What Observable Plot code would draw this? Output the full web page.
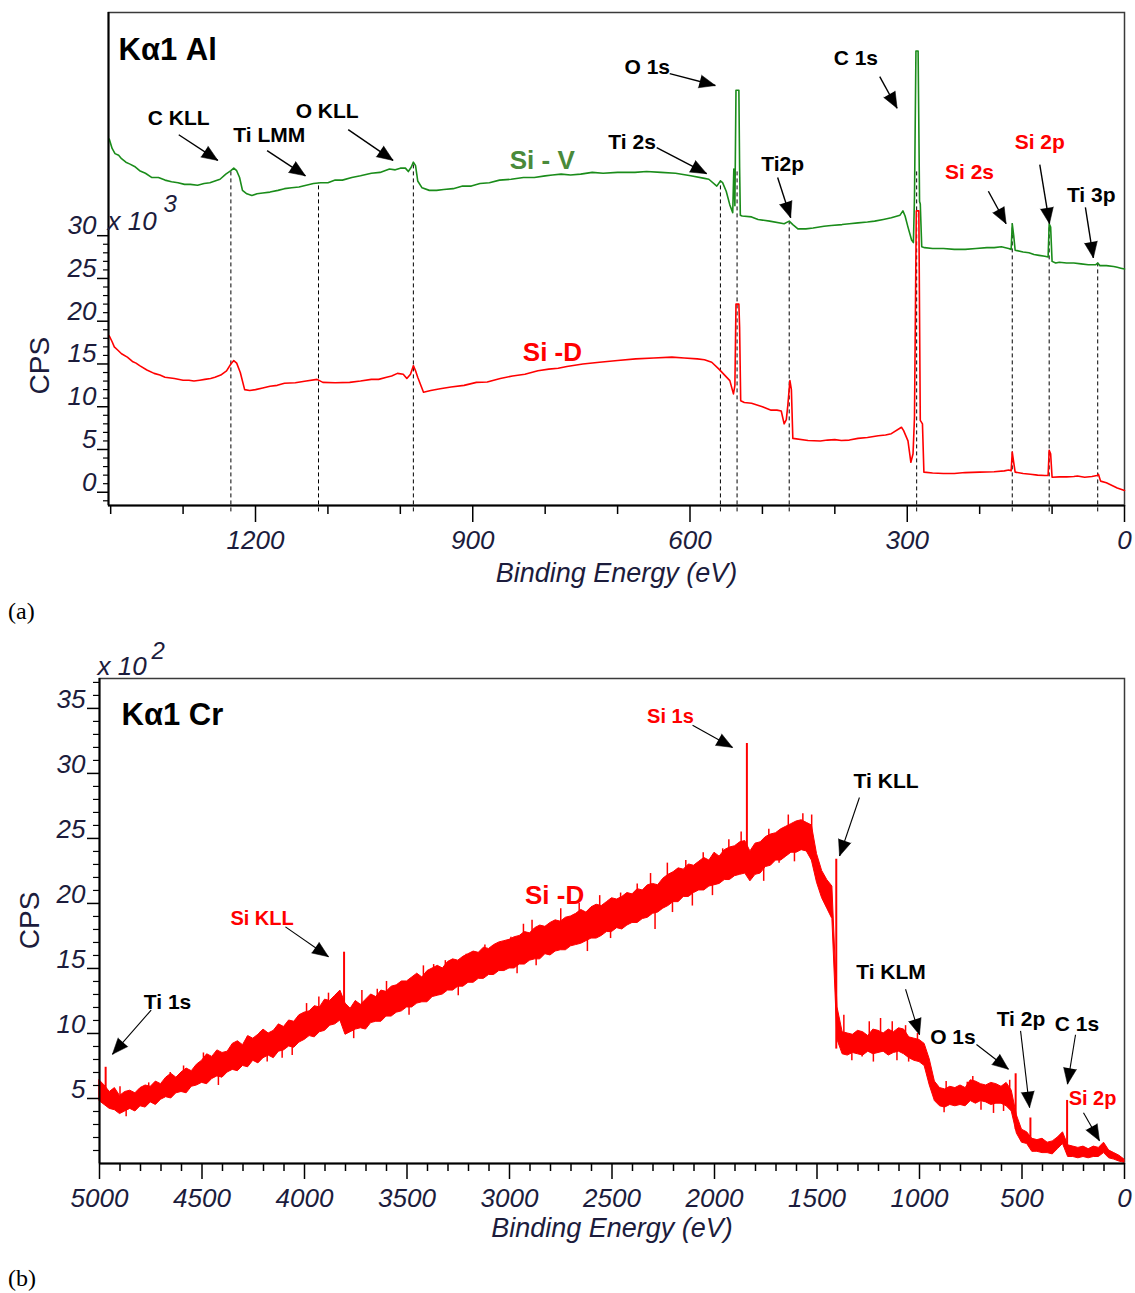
<!DOCTYPE html>
<html>
<head>
<meta charset="utf-8">
<script src="https://cdn.jsdelivr.net/npm/d3@7"></script>
<script src="https://cdn.jsdelivr.net/npm/@observablehq/plot@0.6"></script>
<style>
  html, body { margin: 0; padding: 0; background: #fff; }
  body { width: 1135px; height: 1293px; position: relative; overflow: hidden; font-family: "Liberation Sans", Arial, sans-serif; }
  #panelA { position: absolute; left: 0; top: 0; }
  #panelB { position: absolute; left: 0; top: 630px; }
  .plab { position: absolute; left: 8px; font-family: "Liberation Serif", "Times New Roman", serif; font-size: 24px; color: #000; line-height: 28px; }
</style>
</head>
<body>
<div id="panelA"></div>
<div id="panelB"></div>
<div class="plab" style="top:597px">(a)</div>
<div class="plab" style="top:1264px">(b)</div>
<script>
// ================= Panel (a): Kα1 Al =================
// [binding energy (eV), counts (x10^3 CPS)]
const aSiV = [
  [1402,41.3],[1398,40.2],[1394,39.6],[1389,39.4],[1385,39.0],[1379,38.6],[1374,38.4],[1367,38.1],[1360,37.6],[1352,37.3],
  [1343,36.8],[1334,36.8],[1325,36.5],[1316,36.3],[1307,36.2],[1298,36.0],[1290,36.0],[1280,35.9],[1271,36.1],[1263,36.2],
  [1256,36.4],[1249,36.6],[1241,37.2],[1234,37.6],[1230,37.9],[1226,37.6],[1222,36.8],[1218,35.3],[1212,34.9],[1205,34.7],
  [1198,34.9],[1190,35.0],[1180,35.1],[1169,35.3],[1160,35.5],[1150,35.6],[1140,35.7],[1130,35.9],[1120,36.1],[1110,36.2],
  [1100,36.2],[1090,36.5],[1080,36.5],[1067,36.8],[1055,37.0],[1040,37.3],[1028,37.4],[1015,37.8],[1007,37.7],[1000,37.9],
  [993,37.9],[989,37.5],[985,38.0],[982,38.6],[979,38.2],[976,36.4],[970,35.6],[960,35.3],[950,35.3],[940,35.4],
  [927,35.5],[914,35.8],[902,35.8],[890,36.1],[877,36.2],[863,36.5],[847,36.6],[830,36.8],[815,36.8],[800,37.0],
  [790,37.1],[778,37.2],[765,37.1],[751,37.2],[735,37.4],[720,37.3],[700,37.4],[676,37.4],[660,37.5],[640,37.4],
  [620,37.3],[599,37.0],[580,36.7],[574,36.6],[563,35.8],[558,36.4],[555,36.2],[550,35.2],[545,33.6],[541,32.7],
  [539.5,37.8],[538,33.5],[536.5,47.0],[532.5,47.0],[531.5,38.0],[530.5,32.4],[528,32.3],[515,32.2],[506,31.9],[490,31.7],
  [470,31.4],[463,31.7],[458,31.3],[451,30.8],[440,30.8],[430,30.9],[415,31.1],[405,31.2],[390,31.3],[380,31.4],
  [368,31.5],[355,31.6],[345,31.7],[333,31.9],[322,32.1],[310,32.4],[306,32.9],[303,32.3],[299,31.0],[294,29.5],
  [291.5,29.2],[290,34.5],[288,51.6],[285,51.6],[283,34.0],[282,33.7],[280,28.7],[276,28.6],[265,28.5],[250,28.5],
  [235,28.4],[220,28.4],[205,28.5],[190,28.6],[180,28.6],[170,28.7],[160,28.5],[156.5,28.4],[155,31.4],[153,30.0],
  [151,28.3],[140,28.1],[132,28.0],[125,27.8],[118,27.7],[110,27.6],[105.5,27.5],[104,31.4],[102,31.0],[100,27.0],
  [95,26.8],[90,26.9],[80,26.8],[70,26.8],[60,26.7],[50,26.6],[40,26.6],[37,26.8],[34,26.5],[25,26.5],
  [15,26.4],[10,26.3],[5,26.2],[0,26.1]
];
const aSiD = [
  [1402,18.3],[1398,17.6],[1395,17.0],[1390,16.6],[1385,16.2],[1377,15.8],[1370,15.3],[1365,15.1],[1360,14.8],[1350,14.3],
  [1340,13.9],[1332,13.7],[1325,13.45],[1312,13.3],[1300,13.1],[1292,13.1],[1285,13.0],[1277,13.1],[1270,13.2],[1262,13.3],
  [1256,13.45],[1248,13.7],[1240,14.2],[1234,15.0],[1230,15.4],[1226,15.1],[1221,14.0],[1215,12.0],[1208,11.9],[1200,12.0],
  [1190,12.2],[1180,12.4],[1170,12.5],[1160,12.75],[1145,12.8],[1130,13.0],[1115,13.2],[1107,12.85],[1090,12.8],[1070,12.85],
  [1055,13.0],[1040,13.2],[1030,13.2],[1019,13.45],[1012,13.6],[1004,13.9],[996,13.8],[991,13.3],[986,13.8],[982,14.8],
  [979,14.2],[976,13.45],[968,11.7],[958,11.9],[945,12.1],[930,12.3],[912,12.5],[895,12.85],[880,12.9],[862,13.3],
  [845,13.6],[828,13.8],[810,14.2],[795,14.4],[782,14.5],[770,14.7],[748,15.0],[725,15.2],[700,15.4],[675,15.6],
  [650,15.7],[625,15.8],[608,15.7],[590,15.6],[580,15.5],[570,15.2],[560,14.4],[545,13.05],[540,11.5],[538,12.5],
  [536.5,22.0],[532.5,22.0],[531.5,19.3],[530,10.7],[525,10.5],[515,10.4],[500,10.0],[488,9.6],[480,9.6],[474,9.5],
  [470,8.0],[467,8.5],[465,10.1],[462,13.05],[460,12.0],[458,6.3],[437,6.05],[420,6.0],[410,6.1],[400,6.15],
  [391,6.05],[380,6.1],[368,6.3],[355,6.4],[340,6.6],[330,6.7],[322,6.85],[308,7.6],[305,7.2],[299,6.0],
  [295,3.5],[292,4.5],[290,8.8],[287.5,32.9],[284,32.9],[282,8.4],[279,8.0],[277,2.35],[265,2.25],[250,2.2],
  [235,2.2],[220,2.3],[200,2.35],[180,2.4],[166,2.5],[160,2.6],[156.5,2.5],[155,4.7],[153,3.5],[151,2.35],
  [140,2.2],[130,2.1],[120,2.0],[110,1.95],[105.5,1.95],[104,4.9],[102,4.5],[100,1.75],[90,1.8],[80,1.8],
  [70,1.85],[65,1.9],[55,1.75],[45,1.85],[38,1.95],[36,2.1],[33,1.3],[25,1.1],[20,0.9],[15,0.7],
  [10,0.5],[0,0.2]
];
// dashed peak markers: energy and top value
const aPeakE = [1234, 1113, 982, 558, 535, 463, 287, 155, 104, 37];
const aPeakTop = [37.8, 36.2, 38.6, 36.4, 37.8, 31.6, 37.6, 31.4, 31.0, 26.8];
// ticks
const aXMajor = [1200, 900, 600, 300, 0];
const aXMinor = [1400, 1300, 1100, 1000, 800, 700, 500, 400, 200, 100];
const aYMajor = [0, 5, 10, 15, 20, 25, 30];
const aYMinor = [-1,1,2,3,4,6,7,8,9,11,12,13,14,16,17,18,19,21,22,23,24,26,27,28,29];
// annotations
const aLabelBlack = ["C KLL", "Ti LMM", "O KLL", "O 1s", "C 1s", "Ti 2s", "Ti2p", "Ti 3p"];
const aLabelBlackE = [1306, 1181, 1101, 659, 371, 680, 472, 46];
const aLabelBlackV = [43.7, 41.8, 44.6, 49.7, 50.8, 40.9, 38.3, 34.7];
const aLabelRed = ["Si 2s", "Si 2p"];
const aLabelRedE = [214, 117];
const aLabelRedV = [37.4, 40.9];
const aSeriesName = ["Si - V", "Si -D"];
const aSeriesE = [804, 790];
const aSeriesV = [38.8, 16.3];
const aArrowTailE = [1306, 1184, 1072, 628, 338, 646, 479, 188, 117, 54];
const aArrowTailV = [41.8, 39.95, 42.4, 48.96, 48.6, 40.3, 36.8, 35.2, 38.3, 33.3];
const aArrowTipE = [1252, 1131, 1010, 565, 314, 577, 461, 163.5, 103.6, 43];
const aArrowTipV = [38.8, 37.0, 38.8, 47.56, 44.9, 37.25, 32.1, 31.4, 31.4, 27.4];

// ================= Panel (b): Kα1 Cr =================
// noisy Si -D band, upper / lower edge, every 25 eV from 5000 eV down to 0 eV (x10^2 CPS)
const bHi = [
  6.4,6.0,5.5,5.8,5.2,5.5,5.6,5.4,5.8,6.0,5.9,6.3,6.1,6.6,6.9,6.6,7.0,7.3,7.1,7.6,
  7.9,8.4,8.2,8.7,8.5,8.6,9.2,9.4,9.1,9.8,9.6,9.9,10.3,10.0,10.2,10.7,10.5,11.0,10.9,11.4,
  11.6,11.7,12.1,12.0,12.6,12.5,12.9,13.3,12.3,11.9,12.5,12.2,12.6,13.0,12.8,13.3,13.2,13.6,13.7,14.0,
  14.0,14.3,14.6,14.3,14.8,15.0,15.2,15.0,15.5,15.7,15.6,15.9,16.1,16.3,16.2,16.6,16.5,16.8,17.0,17.1,
  17.2,17.4,17.5,17.8,17.7,18.1,18.3,18.2,18.5,18.7,18.6,18.9,19.0,19.2,19.5,19.3,19.7,19.9,19.8,20.1,
  20.4,20.3,20.5,20.8,20.7,21.1,21.0,21.4,21.5,21.4,21.9,22.2,22.4,22.7,22.6,23.0,22.9,23.2,23.5,23.3,
  23.9,23.6,24.1,24.3,24.4,24.7,24.8,24.0,24.6,24.7,25.1,25.3,25.4,25.7,25.9,26.1,26.3,26.4,26.2,26.0,
  23.8,22.5,21.8,21.3,12.0,10.1,10.0,9.9,10.2,10.1,9.8,10.3,10.2,10.0,10.3,10.1,10.4,10.3,9.7,9.6,
  9.5,9.2,8.0,6.3,5.8,5.7,5.9,5.8,6.0,5.8,6.4,6.3,6.1,6.0,6.2,6.1,5.9,6.2,5.6,3.7,
  2.6,2.4,1.9,1.8,1.9,1.6,1.7,2.0,2.4,1.4,1.3,1.2,1.3,1.1,1.3,1.2,1.6,1.0,0.8,0.6,
  0.3];
const bLo = [
  4.8,4.5,4.2,4.1,3.8,4.0,4.2,4.0,4.4,4.3,4.7,4.5,4.9,5.1,5.0,5.4,5.5,5.4,5.9,6.0,
  6.2,6.1,6.5,6.7,6.6,7.0,7.2,7.1,7.5,7.4,7.9,7.7,8.1,8.3,8.1,8.6,8.7,9.0,8.9,9.3,
  9.5,9.8,9.7,10.1,10.2,10.6,10.7,11.0,9.9,10.1,10.3,10.4,10.3,10.8,10.9,10.9,11.3,11.3,11.6,11.7,
  12.0,12.0,12.3,12.4,12.4,12.8,12.9,13.0,13.3,13.3,13.6,13.6,13.9,13.9,14.2,14.2,14.5,14.5,14.8,14.8,
  15.0,15.0,15.3,15.3,15.6,15.7,15.7,16.1,16.0,16.3,16.4,16.4,16.7,16.8,16.9,17.1,17.3,17.3,17.5,17.8,
  17.8,18.1,18.0,18.3,18.5,18.5,18.8,18.9,19.2,19.3,19.6,19.8,20.1,20.1,20.5,20.5,20.8,21.0,21.0,21.3,
  21.4,21.5,21.8,21.8,22.1,22.2,22.3,21.7,22.2,22.3,22.8,22.9,23.3,23.3,23.6,23.9,23.9,24.1,24.0,23.3,
  21.6,20.4,19.6,18.8,9.5,8.4,8.3,8.5,8.4,8.3,8.6,8.4,8.5,8.6,8.3,8.5,8.6,8.4,8.1,7.9,
  7.8,7.5,6.0,4.8,4.4,4.3,4.5,4.4,4.5,4.4,4.8,4.6,4.8,4.7,4.5,4.6,4.6,4.4,4.0,2.3,
  1.6,1.5,0.9,0.9,0.8,0.8,0.7,1.1,1.5,0.5,0.5,0.4,0.5,0.4,0.5,0.5,0.8,0.4,0.3,0.15,
  0.05];
const bStartE = 5000, bStepE = 25;
// individual noise excursions sticking out of the band: [energy, from, to]
const bNoise = [
  [4900,5.2,5.9],[4870,3.6,4.6],[4760,5.2,6.2],[4655,6.0,7.0],[4590,6.3,7.5],[4493,7.0,8.5],[4420,6.0,7.2],[4353,7.5,8.9],
  [4280,8.5,9.7],[4215,8.5,10.1],[4182,7.8,9.0],[4109,8.1,9.4],[4060,8.3,9.5],[4011,9.5,11.0],[3990,10.6,12.3],[3930,11.0,12.8],
  [3883,11.5,13.1],[3760,9.6,10.8],[3720,11.8,13.3],[3645,11.5,13.4],[3600,12.5,14.0],[3548,12.0,13.6],[3490,11.4,12.6],[3420,13.0,15.2],
  [3370,13.6,15.3],[3313,13.5,15.6],[3250,12.9,14.0],[3211,14.0,16.1],[3166,14.2,16.2],[3120,15.0,16.8],[3061,15.0,16.6],[2993,15.5,17.4],
  [2963,14.6,16.0],[2932,16.5,18.4],[2890,16.5,18.7],[2870,15.2,16.6],[2841,16.2,17.5],[2750,17.5,19.6],[2660,17.8,20.0],[2620,16.3,17.7],
  [2560,18.5,20.6],[2507,17.3,18.5],[2458,19.0,20.8],[2377,19.5,21.5],[2312,20.0,22.3],[2290,18.0,19.3],[2230,21.0,23.1],[2205,19.3,20.5],
  [2140,21.5,23.3],[2108,19.8,21.5],[2055,22.0,23.9],[2010,20.6,21.8],[1960,22.5,24.2],[1930,23.0,24.9],[1870,23.0,25.5],[1821,21.9,23.0],
  [1760,21.7,23.0],[1735,24.0,25.7],[1685,23.1,24.5],[1640,25.0,26.8],[1610,23.2,24.3],[1569,25.0,26.9],[1526,24.5,26.8],[1369,9.0,11.4],
  [1330,7.9,8.9],[1280,8.2,9.0],[1245,9.2,10.9],[1225,7.8,8.8],[1190,9.0,11.15],[1133,9.0,10.9],[1110,7.9,8.9],[1068,9.0,10.6],
  [1053,7.8,8.6],[1010,8.4,10.0],[880,3.9,4.9],[870,5.0,6.3],[767,5.0,6.25],[740,5.5,6.7],[700,4.1,5.1],[639,3.85,5.0],
  [590,4.0,5.0],[560,5.0,6.4]
];
// narrow peaks: energy, base, top
const bSpikeE = [4970, 3807, 1842, 1406, 531, 459, 280];
const bSpikeBase = [4.6, 10.6, 22.3, 8.8, 2.6, 1.2, 0.7];
const bSpikeTop = [7.4, 16.25, 32.3, 23.4, 6.9, 3.5, 4.85];
// ticks
const bXMajor = [5000, 4500, 4000, 3500, 3000, 2500, 2000, 1500, 1000, 500, 0];
const bXMinor = d3.range(100, 5000, 100).filter(d => d % 500 !== 0);
const bYMajor = [5, 10, 15, 20, 25, 30, 35];
const bYMinor = d3.range(1, 38).filter(d => d % 5 !== 0);
// annotations
const bLabelBlack = ["Ti 1s", "Ti KLL", "Ti KLM", "O 1s", "Ti 2p", "C 1s"];
const bLabelBlackE = [4668, 1163, 1139, 837, 505, 232];
const bLabelBlackV = [12.4, 29.4, 14.7, 9.7, 11.1, 10.7];
const bLabelRed = ["Si KLL", "Si 1s", "Si 2p"];
const bLabelRedE = [4207, 2215, 156];
const bLabelRedV = [18.8, 34.4, 5.0];
const bSeriesName = ["Si -D"];
const bSeriesE = [2780];
const bSeriesV = [20.6];
const bArrowTailE = [4748, 4093, 2107, 1293, 1068, 722, 507, 239, 200];
const bArrowTailV = [11.8, 18.2, 33.7, 28.15, 13.4, 9.15, 10.2, 9.9, 3.9];
const bArrowTipE = [4937, 3883, 1912, 1390, 1000, 566, 463, 278, 122];
const bArrowTipV = [8.4, 15.9, 32.0, 23.65, 9.9, 7.25, 4.3, 6.1, 1.75];

// ================= build =================
const FONT = "'Liberation Sans', Arial, Helvetica, sans-serif";
const INK = "#1c1c3c";
const GREEN = "#1a8c1a";
const RED = "#ff0000";

function arrowsOf(tE, tV, hE, hV) {
  return tE.map((e, i) => ({x1: e, y1: tV[i], x2: hE[i], y2: hV[i]}));
}
function angleFn(xs, ys) {
  return d => Math.atan2(xs(d.x2) - xs(d.x1), -(ys(d.y2) - ys(d.y1))) * 180 / Math.PI;
}
function axisMarks(cfg) {
  const common = {label: null, fontSize: 26, fontStyle: "italic", fontFamily: FONT};
  return [
    Plot.axisX(cfg.xMajor, {...common, anchor: "bottom", tickSize: cfg.xMajorSize, stroke: "#000", strokeWidth: 1.5, fill: "none", tickFormat: () => ""}),
    Plot.axisX(cfg.xMinor, {...common, anchor: "bottom", tickSize: cfg.xMinorSize, stroke: "#000", strokeWidth: 1.5, fill: "none", tickFormat: () => ""}),
    Plot.axisX(cfg.xMajor, {...common, anchor: "bottom", tickSize: 0, tickPadding: 25, fill: INK, tickFormat: d => String(d)}),
    Plot.axisY(cfg.yMajor, {...common, anchor: "left", tickSize: cfg.yMajorSize, stroke: "#000", strokeWidth: 1.5, fill: "none", tickFormat: () => ""}),
    Plot.axisY(cfg.yMinor, {...common, anchor: "left", tickSize: cfg.yMinorSize, stroke: "#000", strokeWidth: 1.2, fill: "none", tickFormat: () => ""}),
    Plot.axisY(cfg.yMajor, {...common, anchor: "left", tickSize: 0, tickPadding: cfg.yPad, dy: cfg.yDy, fill: INK, textAnchor: "end", tickFormat: d => String(d)})
  ];
}
function labelMarks(texts, Es, Vs, opts) {
  return Plot.text(texts, {x: (d, i) => Es[i], y: (d, i) => Vs[i], text: d => d, textAnchor: "middle", lineAnchor: "middle", fontWeight: "bold", fontFamily: FONT, ...opts});
}
function arrowMarks(arrows, xs, ys, width) {
  return [
    Plot.link(arrows, {x1: "x1", y1: "y1", x2: "x2", y2: "y2", stroke: "#000", strokeWidth: width}),
    Plot.vector(arrows, {x: "x2", y: "y2", rotate: angleFn(xs, ys), length: 16, r: 6.5, shape: "spike", anchor: "end", fill: "#000", stroke: "#000", strokeWidth: 0.5})
  ];
}

// ---- panel (a)
{
  const W = 1135, H = 600, ML = 108, MR = 11, MT = 12, MB = 95;
  const XD = [1403, 0], YD = [-1.55, 56.1];
  const xs = d3.scaleLinear(XD, [ML, W - MR]);
  const ys = d3.scaleLinear(YD, [H - MB, MT]);
  const green = aSiV.map(([E, v]) => ({E, v}));
  const red = aSiD.map(([E, v]) => ({E, v}));
  const peaks = aPeakE.map((E, i) => ({E, top: aPeakTop[i]}));
  const arrows = arrowsOf(aArrowTailE, aArrowTailV, aArrowTipE, aArrowTipV);
  const chart = Plot.plot({
    width: W, height: H, marginLeft: ML, marginRight: MR, marginTop: MT, marginBottom: MB,
    x: {domain: XD}, y: {domain: YD},
    style: {fontFamily: FONT, background: "transparent", overflow: "visible"},
    marks: [
      Plot.frame({stroke: "#3a3a3a", strokeWidth: 1.5}),
      Plot.ruleX(peaks, {x: "E", y1: -2.3, y2: "top", stroke: "#000", strokeWidth: 1, strokeDasharray: "4,3"}),
      Plot.line(green, {x: "E", y: "v", stroke: GREEN, strokeWidth: 1.6}),
      Plot.line(red, {x: "E", y: "v", stroke: RED, strokeWidth: 1.6}),
      Plot.ruleY([YD[0]], {stroke: "#000", strokeWidth: 2}),
      Plot.ruleX([XD[0]], {stroke: "#000", strokeWidth: 2}),
      ...axisMarks({xMajor: aXMajor, xMinor: aXMinor, xMajorSize: 17, xMinorSize: 9,
                    yMajor: aYMajor, yMinor: aYMinor, yMajorSize: 11, yMinorSize: 5, yPad: 12, yDy: -10}),
      Plot.text(["x 10"], {y: 30, frameAnchor: "left", dx: -1, dy: -14, text: d => d, textAnchor: "start", lineAnchor: "middle", fontSize: 26, fontStyle: "italic", fill: INK}),
      Plot.text(["3"], {y: 30, frameAnchor: "left", dx: 55, dy: -31, text: d => d, textAnchor: "start", lineAnchor: "middle", fontSize: 24, fontStyle: "italic", fill: INK}),
      Plot.text(["CPS"], {y: 14.8, frameAnchor: "left", dx: -68, rotate: -90, text: d => d, textAnchor: "middle", lineAnchor: "middle", fontSize: 28, fill: INK}),
      Plot.text(["Binding Energy (eV)"], {frameAnchor: "bottom", dy: 68, text: d => d, textAnchor: "middle", lineAnchor: "middle", fontSize: 27, fontStyle: "italic", fill: INK}),
      Plot.text(["K\u03b11 Al"], {frameAnchor: "top-left", dx: 10, dy: 38, text: d => d, textAnchor: "start", lineAnchor: "middle", fontSize: 31, fontWeight: "bold", fill: "#000"}),
      ...arrowMarks(arrows, xs, ys, 1.4),
      labelMarks(aLabelBlack, aLabelBlackE, aLabelBlackV, {fontSize: 21, fill: "#000"}),
      labelMarks(aLabelRed, aLabelRedE, aLabelRedV, {fontSize: 21, fill: RED}),
      labelMarks(aSeriesName, aSeriesE, aSeriesV, {fontSize: 26, fill: (d, i) => i === 0 ? "#4a8a3a" : RED})
    ]
  });
  document.getElementById("panelA").append(chart);
}

// ---- panel (b)
{
  const W = 1135, H = 620, ML = 99, MR = 11, MT = 48, MB = 87;
  const XD = [5000, 0], YD = [0, 37.3];
  const xs = d3.scaleLinear(XD, [ML, W - MR]);
  const ys = d3.scaleLinear(YD, [H - MB, MT]);
  const band = bHi.map((hi, i) => ({E: bStartE - i * bStepE, hi, lo: bLo[i]}));
  const noise = bNoise.map(([E, from, to]) => ({E, from, to}));
  const spikes = bSpikeE.map((E, i) => ({E, base: bSpikeBase[i], top: bSpikeTop[i]}));
  const arrows = arrowsOf(bArrowTailE, bArrowTailV, bArrowTipE, bArrowTipV);
  const chart = Plot.plot({
    width: W, height: H, marginLeft: ML, marginRight: MR, marginTop: MT, marginBottom: MB,
    x: {domain: XD}, y: {domain: YD},
    style: {fontFamily: FONT, background: "transparent", overflow: "visible"},
    marks: [
      Plot.frame({stroke: "#3a3a3a", strokeWidth: 1.5}),
      Plot.areaY(band, {x: "E", y1: "lo", y2: "hi", fill: RED, stroke: RED, strokeWidth: 1}),
      Plot.ruleX(noise, {x: "E", y1: "from", y2: "to", stroke: RED, strokeWidth: 1.5}),
      Plot.ruleX(spikes, {x: "E", y1: "base", y2: "top", stroke: RED, strokeWidth: 2}),
      Plot.ruleY([YD[0]], {stroke: "#000", strokeWidth: 2}),
      Plot.ruleX([XD[0]], {stroke: "#000", strokeWidth: 2}),
      ...axisMarks({xMajor: bXMajor, xMinor: bXMinor, xMajorSize: 16, xMinorSize: 8,
                    yMajor: bYMajor, yMinor: bYMinor, yMajorSize: 12, yMinorSize: 6, yPad: 14, yDy: -9}),
      Plot.text(["x 10"], {frameAnchor: "top-left", dx: -2, dy: -12, text: d => d, textAnchor: "start", lineAnchor: "middle", fontSize: 26, fontStyle: "italic", fill: INK}),
      Plot.text(["2"], {frameAnchor: "top-left", dx: 52, dy: -27, text: d => d, textAnchor: "start", lineAnchor: "middle", fontSize: 24, fontStyle: "italic", fill: INK}),
      Plot.text(["CPS"], {y: 18.7, frameAnchor: "left", dx: -69, rotate: -90, text: d => d, textAnchor: "middle", lineAnchor: "middle", fontSize: 28, fill: INK}),
      Plot.text(["Binding Energy (eV)"], {frameAnchor: "bottom", dy: 65, text: d => d, textAnchor: "middle", lineAnchor: "middle", fontSize: 27, fontStyle: "italic", fill: INK}),
      Plot.text(["K\u03b11 Cr"], {frameAnchor: "top-left", dx: 22, dy: 37, text: d => d, textAnchor: "start", lineAnchor: "middle", fontSize: 31, fontWeight: "bold", fill: "#000"}),
      ...arrowMarks(arrows, xs, ys, 1.1),
      labelMarks(bLabelBlack, bLabelBlackE, bLabelBlackV, {fontSize: 21, fill: "#000"}),
      labelMarks(bLabelRed, bLabelRedE, bLabelRedV, {fontSize: 20, fill: RED}),
      labelMarks(bSeriesName, bSeriesE, bSeriesV, {fontSize: 26, fill: RED})
    ]
  });
  document.getElementById("panelB").append(chart);
}
</script>
</body>
</html>
